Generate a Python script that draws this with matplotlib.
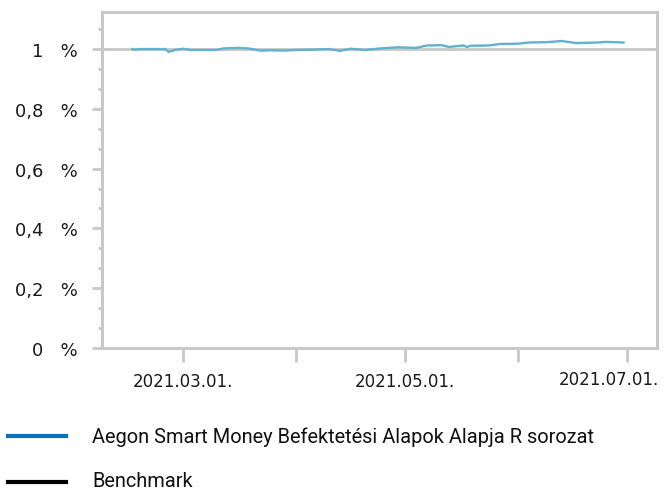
import matplotlib
matplotlib.use("Agg")
import matplotlib.pyplot as plt
import matplotlib.dates as mdates
from matplotlib.ticker import FixedLocator, FuncFormatter, MultipleLocator
from matplotlib.lines import Line2D
import pandas as pd

plt.rcParams["font.family"] = ["DejaVu Sans"]

# ---- data ----
dates = ["2021-02-15", "2021-02-16", "2021-02-17", "2021-02-21", "2021-02-24",
         "2021-02-25", "2021-02-27", "2021-03-01", "2021-03-03", "2021-03-07",
         "2021-03-10", "2021-03-12", "2021-03-16", "2021-03-19", "2021-03-22",
         "2021-03-25", "2021-03-29", "2021-04-01", "2021-04-05", "2021-04-10",
         "2021-04-13", "2021-04-16", "2021-04-20", "2021-04-24", "2021-04-29",
         "2021-05-04", "2021-05-07", "2021-05-11", "2021-05-13", "2021-05-17",
         "2021-05-18", "2021-05-19", "2021-05-24", "2021-05-27", "2021-06-01",
         "2021-06-04", "2021-06-09", "2021-06-13", "2021-06-17", "2021-06-23",
         "2021-06-25", "2021-06-30"]
fund_values = [1.000, 0.998, 1.000, 1.000, 1.000,
               0.991, 0.998, 1.001, 0.997, 0.997,
               0.997, 1.002, 1.004, 1.002, 0.995,
               0.996, 0.995, 0.997, 0.998, 1.000,
               0.994, 1.001, 0.997, 1.002, 1.006,
               1.004, 1.012, 1.013, 1.007, 1.012,
               1.007, 1.011, 1.012, 1.017, 1.018,
               1.022, 1.023, 1.027, 1.020, 1.022,
               1.024, 1.022]
benchmark_values = []  # no benchmark data shown

series_names = ["Aegon Smart Money Befektetési Alapok Alapja R sorozat", "Benchmark"]
y_ticks = [0, 0.2, 0.4, 0.6, 0.8, 1.0]
x_major = ["2021-03-01", "2021-04-01", "2021-05-01", "2021-06-01", "2021-07-01"]
x_labeled = ["2021-03-01", "2021-05-01"]
x_edge_label = "2021-07-01"

# ---- style ----
grey = "#c8c8c8"
line_col = "#5fb3cf"
fund_legend_col = "#0a72ba"
txt_col = "#1a1a1a"

fig = plt.figure(figsize=(6.64, 4.89), dpi=100)
ax = fig.add_axes([102/664, 1-349/489, (657-102)/664, (349-13)/489])

d = pd.to_datetime(dates)
ax.plot(d, fund_values, color=line_col, lw=1.7, solid_joinstyle="round", zorder=3)
ax.axhline(1.0, color=grey, lw=2.0, zorder=1)

ax.set_ylim(0, 1.124)
ax.set_xlim(pd.Timestamp("2021-02-06 16:00"), pd.Timestamp("2021-07-09 05:00"))

for s in ax.spines.values():
    s.set_color(grey)
    s.set_linewidth(2.2)

ax.yaxis.set_major_locator(FixedLocator(y_ticks))
ax.yaxis.set_minor_locator(MultipleLocator(0.2/3))
def yfmt(v, pos):
    s = ("%g" % round(v, 2)).replace(".", ",")
    return s + "   %"
ax.yaxis.set_major_formatter(FuncFormatter(yfmt))

xm = [mdates.date2num(pd.Timestamp(x)) for x in x_major]
ax.xaxis.set_major_locator(FixedLocator(xm))
lab_set = set(x_labeled)
def xfmt(v, pos):
    t = mdates.num2date(v)
    key = t.strftime("%Y-%m-%d")
    return t.strftime("%Y.%m.%d.") if key in lab_set else ""
ax.xaxis.set_major_formatter(FuncFormatter(xfmt))

ax.tick_params(axis="y", which="major", length=7.5, width=2, color=grey,
               labelsize=13, labelcolor=txt_col, pad=10)
ax.tick_params(axis="y", which="minor", length=3, width=2, color=grey)
ax.tick_params(axis="x", which="major", length=10, width=2, color=grey,
               labelsize=12, labelcolor=txt_col, pad=7)
ax.tick_params(axis="x", which="minor", length=0)

# last tick label, pushed left so it stays inside the figure (as in the reference)
te = pd.Timestamp(x_edge_label)
ax.annotate(te.strftime("%Y.%m.%d."), xy=(mdates.date2num(te), 0),
            xycoords=("data", "axes fraction"), xytext=(32, -31),
            textcoords="offset pixels", ha="right", va="center",
            fontsize=12, color=txt_col, annotation_clip=False)

# ---- legend (manual) ----
fig.add_artist(Line2D([8/664, 66/664], [1-437/489, 1-437/489], color=fund_legend_col, lw=3))
fig.add_artist(Line2D([8/664, 66/664], [1-483/489, 1-483/489], color="black", lw=3))
fig.text(92/664, 1-437/489, series_names[0], fontsize=14.4, family=["Roboto", "DejaVu Sans"],
         va="center", ha="left", color="#111111")
fig.text(92/664, 1-482/489, series_names[1], fontsize=14.4, family=["Roboto", "DejaVu Sans"],
         va="center", ha="left", color="#111111")

fig.savefig("out.png", dpi=100)
